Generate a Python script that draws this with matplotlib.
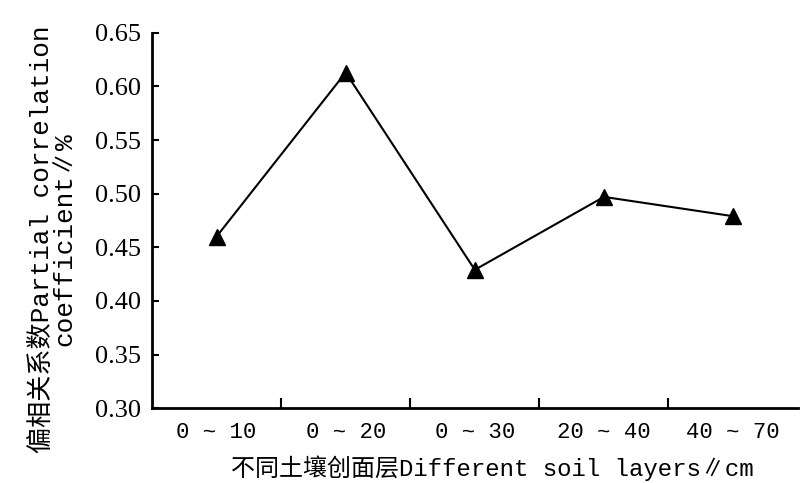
import numpy as np
import matplotlib
matplotlib.use("Agg")
import matplotlib.pyplot as plt

#Data
layers = ["0 ~ 10", "0 ~ 20", "0 ~ 30", "20 ~ 40", "40 ~ 70"]
pcoef = [0.460, 0.613, 0.429, 0.497, 0.479]
yticks = [0.30, 0.35, 0.40, 0.45, 0.50, 0.55, 0.60, 0.65]

plt.rcParams["font.family"] = ["Liberation Serif", "Noto Sans CJK SC", "DejaVu Sans"]

fig = plt.figure(figsize=(8, 4.83), dpi=100)
ax = fig.add_axes([0.19, 0.155, 0.807, 0.777])

x = np.arange(len(layers))
ax.plot(x, pcoef, color="black", linewidth=1.5, marker="^", markersize=11)

ax.set_xlim(-0.5, len(layers) - 0.5)
ax.set_ylim(0.30, 0.65)

#Ticks between categories, labels at centres
ax.set_xticks(x[:-1] + 0.5)
ax.set_xticklabels([])
ax.set_xticks(x, minor=True)
ax.set_xticklabels(layers, minor=True, fontsize=16,
                   family=["Liberation Mono", "DejaVu Sans Mono"])
ax.tick_params(axis="x", which="major", direction="in", length=7, width=1.5)
ax.tick_params(axis="x", which="minor", length=0, pad=10)

ax.set_yticks(yticks)
ax.set_yticklabels(["{:.2f}".format(v) for v in yticks], fontsize=19)
ax.tick_params(axis="y", direction="in", length=5, width=1.5, pad=8)

for s in ["top", "right"]:
    ax.spines[s].set_visible(False)
for s in ["left", "bottom"]:
    ax.spines[s].set_linewidth(2)

ax.set_xlabel("不同土壤创面层Different soil layers\u2225cm", fontsize=17.3,
              family=["Liberation Mono", "Noto Sans CJK SC", "DejaVu Sans"])
ax.xaxis.set_label_coords(0.527, -0.125)
ax.set_ylabel("偏相关系数Partial correlation\ncoefficient\u2225%", fontsize=18.8,
              linespacing=0.95,
              family=["Liberation Mono", "Noto Sans CJK SC", "DejaVu Sans"])
ax.yaxis.set_label_coords(-0.117, 0.45)

fig.savefig("out.png", format="png")
plt.close(fig)
